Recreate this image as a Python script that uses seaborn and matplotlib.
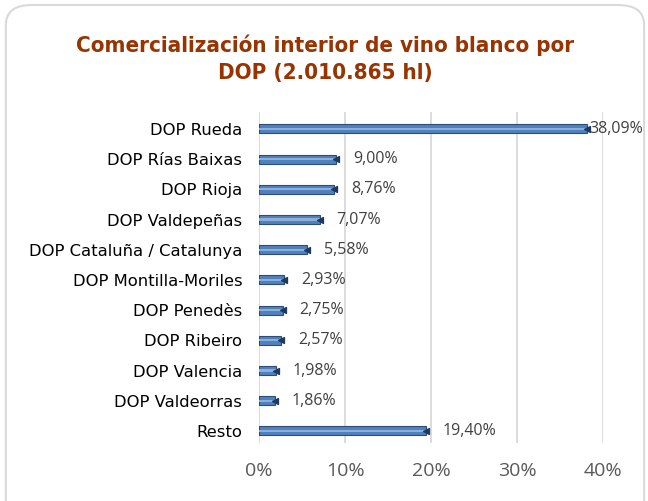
import matplotlib
matplotlib.use("Agg")
import matplotlib.pyplot as plt
import seaborn as sns
import pandas as pd
from matplotlib.patches import FancyBboxPatch
from matplotlib.ticker import PercentFormatter

categories = ["DOP Rueda", "DOP Rías Baixas", "DOP Rioja", "DOP Valdepeñas",
              "DOP Cataluña / Catalunya", "DOP Montilla-Moriles", "DOP Penedès",
              "DOP Ribeiro", "DOP Valencia", "DOP Valdeorras", "Resto"]
values = [38.09, 9.00, 8.76, 7.07, 5.58, 2.93, 2.75, 2.57, 1.98, 1.86, 19.40]
value_labels = ["38,09%", "9,00%", "8,76%", "7,07%", "5,58%", "2,93%", "2,75%",
                "2,57%", "1,98%", "1,86%", "19,40%"]
x_ticks = [0, 10, 20, 30, 40]

df = pd.DataFrame({"cat": categories, "val": values})

sns.set_theme(style="white")
plt.rcParams['font.family'] = ['DejaVu Sans']

fig = plt.figure(figsize=(6.48, 5.01), dpi=100)
fig.patch.set_facecolor("white")
border = FancyBboxPatch((0.009, -0.05), 0.985, 1.04, boxstyle="round,pad=0,rounding_size=0.04",
                        transform=fig.transFigure, facecolor="none", edgecolor="#D9D9D9",
                        linewidth=1.5, zorder=-1)
fig.patches.append(border)

ax = fig.add_axes([0.3997, 0.1158, 0.5309, 0.6606])
ax.set_facecolor("none")
sns.barplot(data=df, x="val", y="cat", orient="h", ax=ax, color="#4F81BD",
            edgecolor="#2C4D75", linewidth=0.8, width=0.3, saturation=1, zorder=3)
# lighter highlight stripe along bars
sns.barplot(data=df, x="val", y="cat", orient="h", ax=ax, color="#8EAEDA",
            linewidth=0, width=0.07, saturation=1, zorder=4)
ax.scatter(values, range(len(values)), marker="<", s=18, color="#1F3A5F", zorder=5)

ax.set_xlim(0, 40)
ax.set_ylim(10.4, -0.56)
ax.set_xticks(x_ticks)
ax.xaxis.set_major_formatter(PercentFormatter(decimals=0))
ax.grid(axis="x", color="#D9D9D9", linewidth=1.3, zorder=0)
ax.set_axisbelow(True)
ax.set_xlabel("")
ax.set_ylabel("")
for s in ax.spines.values():
    s.set_visible(False)
ax.tick_params(axis="x", length=0, labelcolor="#595959", pad=14)
ax.tick_params(axis="y", length=0, labelcolor="black", pad=12)
for lbl in ax.get_yticklabels():
    lbl.set_fontfamily("DejaVu Sans")
    lbl.set_fontsize(11.8)
for lbl in ax.get_xticklabels():
    lbl.set_fontfamily("Open Sans")
    lbl.set_fontsize(14)

for i, (v, t) in enumerate(zip(values, value_labels)):
    pad = 2 if v > 35 else 12
    ax.annotate(t, (v, i), xytext=(pad, 0), textcoords="offset points",
                va="center", ha="left", fontsize=11.5, color="#404040",
                family="Open Sans", zorder=6, annotation_clip=False)

fig.text(0.502, 0.91, "Comercialización interior de vino blanco por",
         ha="center", va="center", fontsize=16, fontweight="bold", color="#993300",
         family="DejaVu Sans", fontstretch="condensed")
fig.text(0.502, 0.855, "DOP (2.010.865 hl)",
         ha="center", va="center", fontsize=16, fontweight="bold", color="#993300",
         family="DejaVu Sans", fontstretch="condensed")

fig.savefig("out.png", dpi=100)
